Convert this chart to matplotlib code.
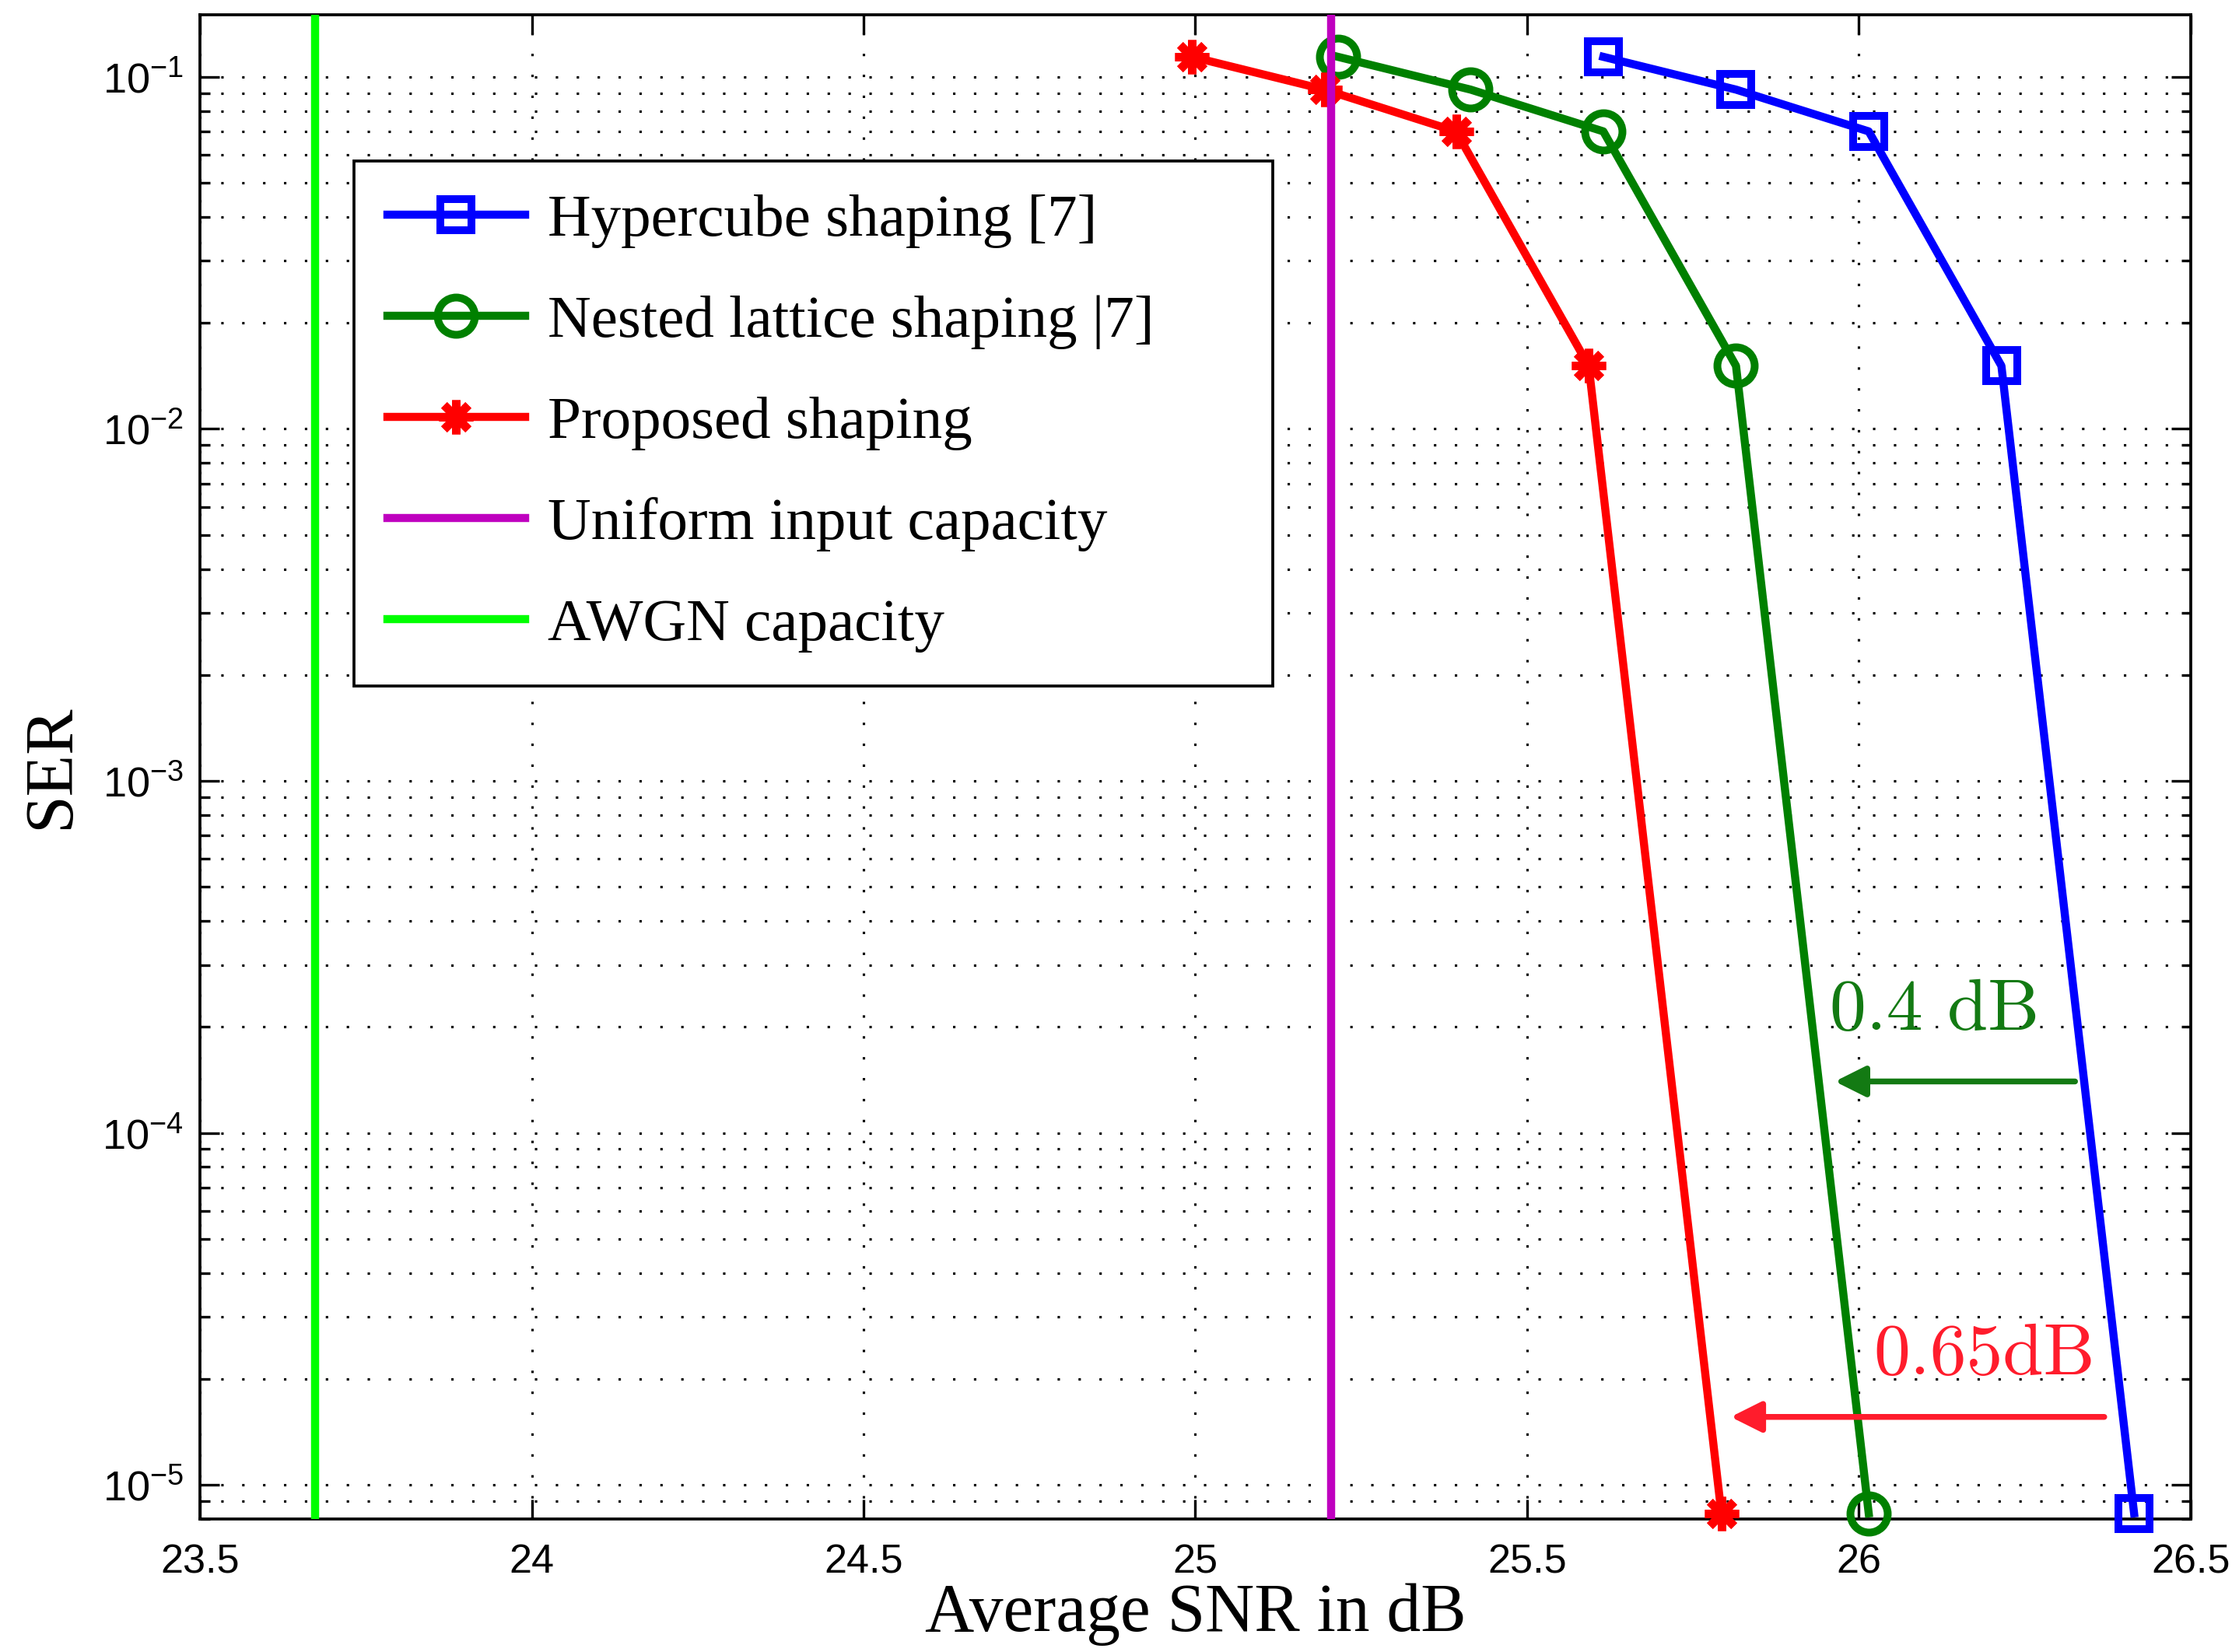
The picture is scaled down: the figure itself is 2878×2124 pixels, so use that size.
import matplotlib
matplotlib.use("Agg")
import matplotlib.pyplot as plt
from matplotlib.ticker import LogLocator, NullFormatter, FixedLocator

# ── data ──────────────────────────────────────────────────────────────────────
ser = [0.114, 0.092, 0.070, 0.0151, 8.3e-6]
snr_hypercube = [25.615, 25.815, 26.015, 26.215, 26.415]
snr_nested = [25.215, 25.415, 25.615, 25.815, 26.015]
snr_proposed = [24.995, 25.195, 25.393, 25.593, 25.793]
snr_uniform_cap = 25.205
snr_awgn_cap = 23.673

labels = ["Hypercube shaping [7]", "Nested lattice shaping |7]",
          "Proposed shaping", "Uniform input capacity", "AWGN capacity"]

xticks = [23.5, 24, 24.5, 25, 25.5, 26, 26.5]
xticklabels = ["23.5", "24", "24.5", "25", "25.5", "26", "26.5"]

plt.rcParams["font.family"] = ["Liberation Sans", "DejaVu Sans"]
plt.rcParams["mathtext.fontset"] = "custom"
plt.rcParams["mathtext.rm"] = "Liberation Sans"
plt.rcParams["mathtext.it"] = "Liberation Sans:italic"
plt.rcParams["mathtext.bf"] = "Liberation Sans:bold"

BLUE = "#0000FF"
GREEN = "#008000"
RED = "#FF0000"
MAGENTA = "#BF00BF"
LIME = "#00FF00"
SERIF = ["Liberation Serif", "DejaVu Serif"]

fig = plt.figure(figsize=(2879 / 300, 2124 / 300), dpi=300)
ax = fig.add_axes([0.0893, 0.0805, 0.8887, 0.9105])

lw = 2.5
ax.semilogy(snr_hypercube, ser, color=BLUE, lw=lw, marker="s", ms=9.5,
            mfc="none", mec=BLUE, mew=2.4, label=labels[0], zorder=3,
            clip_on=False)
ax.semilogy(snr_nested, ser, color=GREEN, lw=lw, marker="o", ms=11.5,
            mfc="none", mec=GREEN, mew=2.4, label=labels[1], zorder=3,
            clip_on=False)
ax.semilogy(snr_proposed, ser, color=RED, lw=lw, marker=(8, 2, 0), ms=10.5,
            mec=RED, mew=2.6, label=labels[2], zorder=3, clip_on=False)
ax.axvline(snr_uniform_cap, color=MAGENTA, lw=lw, label=labels[3], zorder=3)
ax.axvline(snr_awgn_cap, color=LIME, lw=lw, label=labels[4], zorder=3)

ax.set_xlim(23.5, 26.5)
ax.set_ylim(8e-6, 0.15)

ax.xaxis.set_major_locator(FixedLocator(xticks))
ax.set_xticklabels(xticklabels)
ax.yaxis.set_major_locator(LogLocator(base=10, numticks=10))
ax.yaxis.set_minor_locator(LogLocator(base=10, subs=range(2, 10), numticks=20))
ax.yaxis.set_minor_formatter(NullFormatter())

ax.tick_params(which="both", direction="in", top=True, right=True, width=0.8)
ax.tick_params(which="major", length=6)
ax.tick_params(which="minor", length=3)
ax.tick_params(axis="x", which="major", labelsize=12.5, pad=7.5)
ax.tick_params(axis="y", which="major", labelsize=13, pad=5)
for s in ax.spines.values():
    s.set_linewidth(0.9)

dots = (0, (1, 7.6))
ax.grid(True, which="major", axis="x", color="k", lw=0.75, linestyle=dots)
ax.grid(True, which="both", axis="y", color="k", lw=0.75, linestyle=dots)
ax.set_axisbelow(True)

ax.set_xlabel("Average SNR in dB", fontsize=21, family=SERIF, labelpad=0.5)
ax.set_ylabel("SER", fontsize=21, family=SERIF, labelpad=5.8)

leg = ax.legend(loc="upper left", bbox_to_anchor=(0.0774, 0.559, 0.4616, 0.344),
                mode="expand", borderaxespad=0, fancybox=False,
                edgecolor="k", framealpha=1, handlelength=2.3,
                handletextpad=0.38, labelspacing=0.78, borderpad=0.55,
                prop={"family": SERIF, "size": 18.5})
leg.get_frame().set_linewidth(0.9)
leg.set_zorder(5)

# ── gain arrows ───────────────────────────────────────────────────────────────
ax.annotate("", xy=(25.964, 1.4e-4), xytext=(26.326, 1.4e-4),
            arrowprops=dict(arrowstyle="-|>,head_length=0.4,head_width=0.2",
                            color="#137A13", lw=1.8, mutation_scale=20,
                            shrinkA=0, shrinkB=0), zorder=4)
ax.text(26.114, 1.96e-4, "0.4 dB", color="#137A13", fontsize=22.5,
        family="cmr10", ha="center", va="baseline", zorder=4)

ax.annotate("", xy=(25.807, 1.56e-5), xytext=(26.370, 1.56e-5),
            arrowprops=dict(arrowstyle="-|>,head_length=0.4,head_width=0.2",
                            color="#FF1C2C", lw=1.8, mutation_scale=20,
                            shrinkA=0, shrinkB=0), zorder=4)
ax.text(26.19, 2.06e-5, "0.65dB", color="#FF1C2C", fontsize=22.5,
        family="cmr10", ha="center", va="baseline", zorder=4)

fig.savefig("out.png", dpi=300, facecolor="white")
